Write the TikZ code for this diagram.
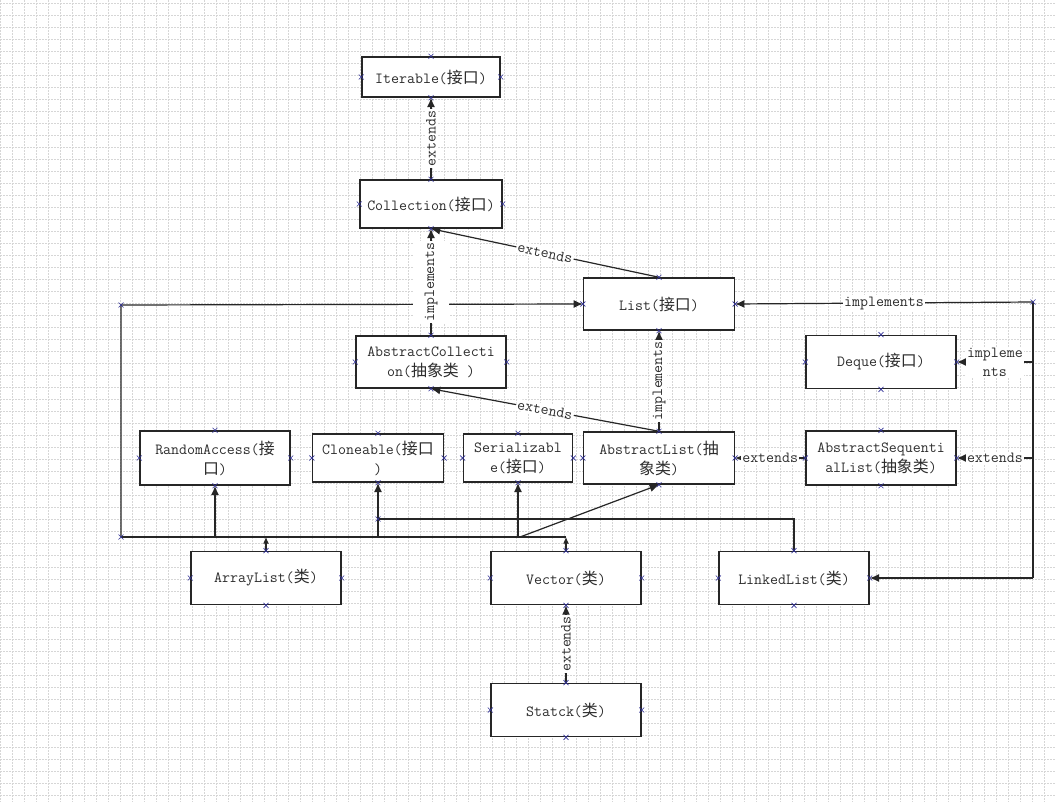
\documentclass[tikz,border=0pt]{standalone}
\usepackage{fontspec}
\newfontfamily\cjk{Noto Sans CJK SC}[Scale=1.03]
\usetikzlibrary{arrows.meta}
\newcommand\zh[1]{{\cjk #1}}
\definecolor{mkc}{RGB}{50,50,150}
\definecolor{txt}{RGB}{45,45,45}
\begin{document}
\begin{tikzpicture}[x=0.75pt,y=-0.75pt,
  gridl/.style={black!16,line width=0.4pt,dash pattern=on 1.5pt off 0.75pt},
  box/.style={draw=black!85,line width=1.1pt,fill=white,rectangle,inner sep=0pt,align=center,
     text=txt,font=\ttfamily\fontsize{11.6}{15}\selectfont},
  conn/.style={draw=black!85,line width=0.9pt},
  arr/.style={conn,-{Latex[length=7pt,width=6pt]}},
  sarr/.style={conn,-{Latex[length=5pt,width=4.5pt]}},
  lbl/.style={fill=white,inner sep=1pt,text=txt,font=\ttfamily\fontsize{11.6}{14}\selectfont,align=center},
  xm/.pic={\draw[mkc,line width=0.5pt] (-2.5,-2.5)--(2.5,2.5) (-2.5,2.5)--(2.5,-2.5);}
]
\useasboundingbox (0,0) rectangle (1056,802);
\fill[white] (0,0) rectangle (1056,802);
\foreach \i in {0,...,88} \draw[gridl] (\i*12,0) -- (\i*12,802);
\foreach \j in {0,...,66} \draw[gridl] (0,\j*12+3) -- (1056,\j*12+3);

% nodes
\node[box,minimum width=103.5pt,minimum height=30pt] (it) at (431,77) {Iterable(\zh{接口})};
\node[box,minimum width=106.5pt,minimum height=36pt] (co) at (431,204) {Collection(\zh{接口})};
\node[box,minimum width=113pt,minimum height=39pt] (li) at (659,304) {List(\zh{接口})};
\node[box,minimum width=112.5pt,minimum height=39pt] (ac) at (431,362) {AbstractCollecti\\on(\zh{抽象类} )};
\node[box,minimum width=112.5pt,minimum height=40pt] (dq) at (881,362) {Deque(\zh{接口})};
\node[box,minimum width=112.5pt,minimum height=40.5pt] (ra) at (215,458) {RandomAccess(\zh{接}\\\zh{口})};
\node[box,minimum width=98pt,minimum height=36pt] (cl) at (378,458) {Cloneable(\zh{接口}\\)};
\node[box,minimum width=82pt,minimum height=36pt] (se) at (518,458) {Serializabl\\e(\zh{接口})};
\node[box,minimum width=113pt,minimum height=39pt] (al) at (659,458) {AbstractList(\zh{抽}\\\zh{象类})};
\node[box,minimum width=112.5pt,minimum height=40.5pt] (asl) at (881,458) {AbstractSequenti\\alList(\zh{抽象类})};
\node[box,minimum width=112.5pt,minimum height=40pt] (arl) at (266,578) {ArrayList(\zh{类})};
\node[box,minimum width=112.5pt,minimum height=40pt] (ve) at (566,578) {Vector(\zh{类})};
\node[box,minimum width=112.5pt,minimum height=40pt] (ll) at (794,578) {LinkedList(\zh{类})};
\node[box,minimum width=112.5pt,minimum height=40pt] (st) at (566,710) {Statck(\zh{类})};

% waypoints
\coordinate (p1) at (121,305);
\coordinate (p2) at (121,537);
\coordinate (p3) at (566,537);
\coordinate (q1) at (378,519);
\coordinate (r1) at (1033,302);
\coordinate (r2) at (1033,578);
\coordinate (r3) at (1033,362);
\coordinate (r4) at (1033,458);

% ArrayList / Vector group
\draw[conn] (p2) -- (p3);
\draw[arr] (p2) -- (p1) -- (li.west);
\draw[sarr] (arl.north) -- (arl.north |- p2);
\draw[sarr] (ve.north) -- (ve.north |- p2);
\draw[arr] (ra.south |- p2) -- (ra.south);
\draw[arr] (cl.south |- p2) -- (cl.south);
\draw[arr] (se.south |- p2) -- (se.south);
\draw[arr] (520,537) -- (al.south);
% LinkedList group
\draw[conn] (ll.north) -- (ll.north |- q1) -- (q1);
\draw[conn] (r1) -- (r2);
\draw[arr] (r2) -- (ll.east);
\draw[arr] (r1) -- node[lbl] (l7) {implements} (li.east);
\draw[arr] (r3) -- node[lbl] (l8) {impleme\\nts} (dq.east);
\draw[arr] (r4) -- node[lbl] (l9) {extends} (asl.east);

% main hierarchy
\draw[arr] (co.north) -- node[lbl,rotate=90] (l1) {extends} (it.south);
\draw[arr] (ac.north) -- node[lbl,rotate=90,inner ysep=9pt] (l2) {implements} (co.south);
\draw[arr] (li.north) -- node[lbl,sloped] (l3) {extends} (co.south);
\draw[arr] (al.north) -- node[lbl,rotate=90] (l4) {implements} (li.south);
\draw[arr] (al.north) -- node[lbl,sloped] (l5) {extends} (ac.south);
\draw[arr] (asl.west) -- node[lbl] (l6) {extends} (al.east);
\draw[arr] (st.north) -- node[lbl,rotate=90] (l10) {extends} (ve.south);

% connection markers
\foreach \n in {it,co,li,ac,dq,ra,cl,se,al,asl,arl,ve,ll,st}
  \foreach \a in {north,south,east,west}
    \pic at (\n.\a) {xm};
\foreach \c in {p1,p2,q1,r1}
  \pic at (\c) {xm};
\end{tikzpicture}
\end{document}
